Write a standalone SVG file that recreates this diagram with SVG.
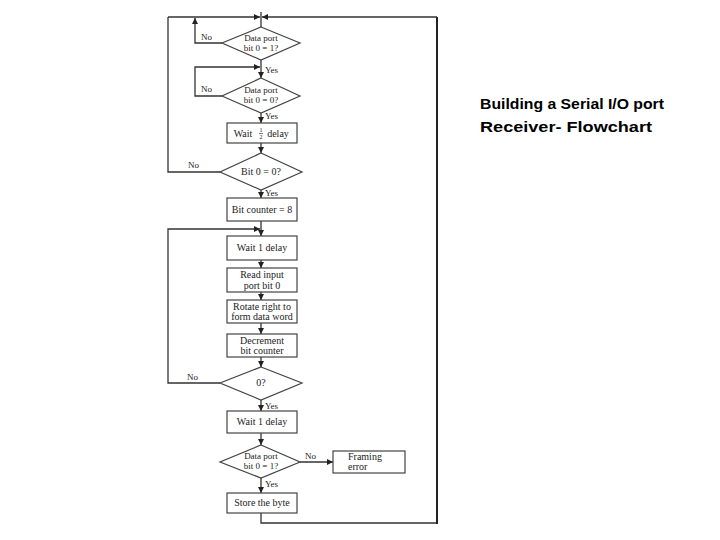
<svg xmlns="http://www.w3.org/2000/svg" width="720" height="540" viewBox="0 0 720 540">
<style>
.box{fill:#fff;stroke:#444;stroke-width:1.2}
.dia{fill:#fff;stroke:#444;stroke-width:1.2}
.ln{fill:none;stroke:#333;stroke-width:1.3}
.out{fill:none;stroke:#222;stroke-width:2}
.t{font-family:"Liberation Serif","Times New Roman",serif;font-size:10px;fill:#222;text-anchor:middle}
.td{font-family:"Liberation Serif","Times New Roman",serif;font-size:9px;fill:#222;text-anchor:middle}
.lb{font-family:"Liberation Serif","Times New Roman",serif;font-size:9px;fill:#222}
.title{font-family:"Liberation Sans",Arial,sans-serif;font-weight:bold;font-size:15px;fill:#000}
</style>
<defs>
<marker id="ah" viewBox="0 0 10 10" refX="10" refY="5" markerWidth="6" markerHeight="6" markerUnits="userSpaceOnUse" orient="auto">
<path d="M0,0 L10,5 L0,10 z" fill="#222"/>
</marker>
</defs>
<rect width="720" height="540" fill="#fff"/>

<g id="connectors">
<line class="ln" x1="261" y1="12" x2="261" y2="27"/>
<line class="ln" x1="168" y1="17" x2="260" y2="17" marker-end="url(#ah)"/>
<polyline class="ln" points="261,513 261,523 437,523"/>
<line class="out" x1="437" y1="524" x2="437" y2="17"/>
<line class="ln" x1="437" y1="17" x2="262" y2="17" marker-end="url(#ah)"/>
<polyline class="ln" points="222,43 195,43 195,18" marker-end="url(#ah)"/>
<line class="ln" x1="261" y1="60" x2="261" y2="78" marker-end="url(#ah)"/>
<polyline class="ln" points="222,96 195,96 195,67 260,67" marker-end="url(#ah)"/>
<line class="ln" x1="261" y1="113" x2="261" y2="123" marker-end="url(#ah)"/>
<line class="ln" x1="261" y1="143" x2="261" y2="153" marker-end="url(#ah)"/>
<polyline class="ln" points="220,172 168,172 168,17"/>
<line class="ln" x1="261" y1="190" x2="261" y2="198" marker-end="url(#ah)"/>
<line class="ln" x1="261" y1="221" x2="261" y2="236" marker-end="url(#ah)"/>
<polyline class="ln" points="220,383 168,383 168,229 260,229" marker-end="url(#ah)"/>
<line class="ln" x1="261" y1="260" x2="261" y2="268" marker-end="url(#ah)"/>
<line class="ln" x1="261" y1="292" x2="261" y2="300" marker-end="url(#ah)"/>
<line class="ln" x1="261" y1="323" x2="261" y2="334" marker-end="url(#ah)"/>
<line class="ln" x1="261" y1="357" x2="261" y2="367" marker-end="url(#ah)"/>
<line class="ln" x1="261" y1="400" x2="261" y2="411" marker-end="url(#ah)"/>
<line class="ln" x1="261" y1="433" x2="261" y2="445" marker-end="url(#ah)"/>
<line class="ln" x1="300" y1="462" x2="333" y2="462" marker-end="url(#ah)"/>
<line class="ln" x1="261" y1="478" x2="261" y2="493" marker-end="url(#ah)"/>
<text class="lb" x="201" y="40">No</text>
<text class="lb" x="265" y="73">Yes</text>
<text class="lb" x="201" y="92">No</text>
<text class="lb" x="265" y="119">Yes</text>
<text class="lb" x="188" y="168">No</text>
<text class="lb" x="265" y="196">Yes</text>
<text class="lb" x="187" y="380">No</text>
<text class="lb" x="265" y="409">Yes</text>
<text class="lb" x="305" y="459">No</text>
<text class="lb" x="265" y="487">Yes</text>
</g>

<g id="d1">
<polygon class="dia" points="261,27 300,43 261,60 222,43"/>
<text class="td" x="261" y="41">Data port</text>
<text class="td" x="261" y="51">bit 0 = 1?</text>
</g>
<g id="d2">
<polygon class="dia" points="261,78 300,96 261,113 222,96"/>
<text class="td" x="261" y="93">Data port</text>
<text class="td" x="261" y="103">bit 0 = 0?</text>
</g>
<g id="b1">
<rect class="box" x="227" y="123" width="70" height="20"/>
<text class="t" x="243" y="137">Wait</text>
<text class="t" x="261" y="132" style="font-size:6px">1</text>
<line x1="259" y1="133.5" x2="263" y2="133.5" stroke="#222" stroke-width="0.6"/>
<text class="t" x="261" y="139" style="font-size:6px">2</text>
<text class="t" x="278" y="137">delay</text>
</g>
<g id="d3">
<polygon class="dia" points="261,153 302,172 261,190 220,172"/>
<text class="t" x="261" y="175">Bit 0 = 0?</text>
</g>
<g id="b2">
<rect class="box" x="227" y="198" width="70" height="23"/>
<text class="t" x="262" y="213">Bit counter = 8</text>
</g>
<g id="b3">
<rect class="box" x="227" y="236" width="70" height="24"/>
<text class="t" x="262" y="251">Wait 1 delay</text>
</g>
<g id="b4">
<rect class="box" x="227" y="268" width="70" height="24"/>
<text class="t" x="262" y="278">Read input</text>
<text class="t" x="262" y="289">port bit 0</text>
</g>
<g id="b5">
<rect class="box" x="227" y="300" width="70" height="23"/>
<text class="t" x="262" y="310">Rotate right to</text>
<text class="t" x="262" y="320">form data word</text>
</g>
<g id="b6">
<rect class="box" x="227" y="334" width="70" height="23"/>
<text class="t" x="262" y="344">Decrement</text>
<text class="t" x="262" y="354">bit counter</text>
</g>
<g id="d4">
<polygon class="dia" points="261,367 302,383 261,400 220,383"/>
<text class="t" x="261" y="386">0?</text>
</g>
<g id="b7">
<rect class="box" x="227" y="411" width="70" height="22"/>
<text class="t" x="262" y="425">Wait 1 delay</text>
</g>
<g id="d5">
<polygon class="dia" points="261,445 300,462 261,478 220,462"/>
<text class="td" x="261" y="459">Data port</text>
<text class="td" x="261" y="469">bit 0 = 1?</text>
</g>
<g id="bf">
<rect class="box" x="333" y="451" width="72" height="22"/>
<text class="t" x="348" y="460" style="text-anchor:start">Framing</text>
<text class="t" x="348" y="470" style="text-anchor:start">error</text>
</g>
<g id="b8">
<rect class="box" x="227" y="493" width="70" height="20"/>
<text class="t" x="262" y="506">Store the byte</text>
</g>

<g id="title">
<text class="title" x="480" y="109" textLength="184" lengthAdjust="spacingAndGlyphs">Building a Serial I/O port</text>
<text class="title" x="480" y="132" textLength="172" lengthAdjust="spacingAndGlyphs">Receiver- Flowchart</text>
</g>
</svg>
